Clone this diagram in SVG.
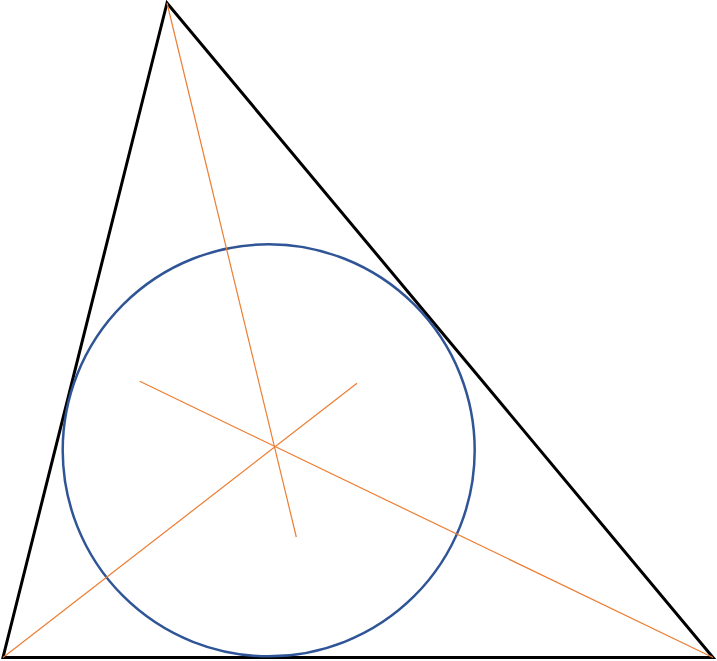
<svg xmlns="http://www.w3.org/2000/svg" width="717" height="661" viewBox="0 0 717 661">
<style>
.tri{fill:none;stroke:#000;stroke-width:3;stroke-linejoin:miter}
.inc{fill:none;stroke:#2F5597;stroke-width:2.5}
.bis{stroke:#ED7D31;stroke-width:1.2;fill:none}
</style>
<rect width="717" height="661" fill="#fff"/>
<g id="triangle">
<polygon class="tri" points="167,3 3,657.5 713,657.5"/>
</g>
<g id="incircle">
<circle class="inc" cx="268.7" cy="450.3" r="206"/>
</g>
<g id="connectors">
<line class="bis" x1="167" y1="3" x2="296.3" y2="537"/>
<line class="bis" x1="3" y1="657.5" x2="357" y2="383.3"/>
<line class="bis" x1="713" y1="657.5" x2="139.7" y2="381.3"/>
</g>
</svg>
